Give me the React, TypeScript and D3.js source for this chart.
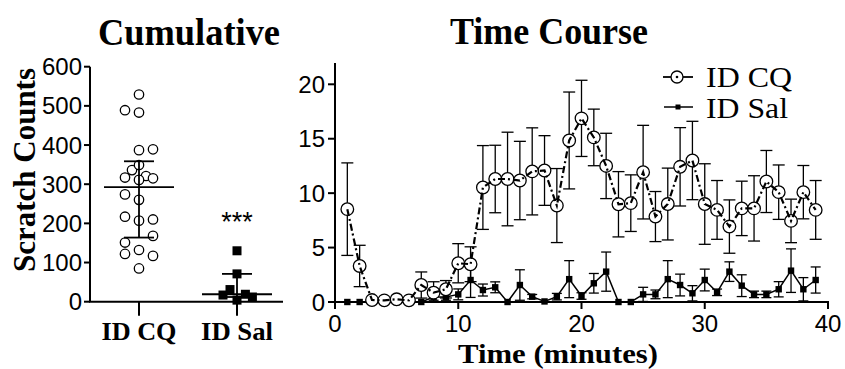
import React from "react";
import * as d3 from "d3";

const cqCumulative = [529, 489, 483, 387, 389, 336, 349, 317, 321, 311, 315, 274, 260, 217, 207, 210, 151, 168, 122, 132, 117, 85];
const cqJitter = [0, -1, 0, 0, 1, -0.5, 0, -1, 0.5, 0, 1, -1, 0, -1, 0, 1, -1, 1, -1, 0, 1, 0];
const salCumulative = [130, 71, 31, 17, 19, 12, 4];
const salJitter = [0, 0, -0.5, -1, 0.6, 1.1, 0];
const categories = ["ID CQ", "ID Sal"];
const leftTicks = [0, 100, 200, 300, 400, 500, 600];

const minutes = d3.range(1, 40);
const cqMean = [8.53, 3.31, 0.18, 0.15, 0.25, 0.15, 1.56, 0.86, 1.17, 3.56, 3.47, 10.52, 11.3, 11.3, 11.16, 12.0, 12.08, 8.86, 14.84, 16.87, 15.12, 12.5, 8.98, 9.08, 11.93, 7.85, 9.0, 12.42, 13.0, 9.0, 8.46, 6.93, 8.6, 8.6, 11.07, 10.09, 7.45, 10.09, 8.46];
const cqSem = [4.25, 1.9, 0.1, 0.1, 0.15, 0.1, 1.2, 1.0, 0.8, 1.8, 1.6, 3.85, 3.1, 4.3, 3.6, 4.0, 3.2, 3.4, 4.45, 3.5, 2.6, 3.0, 3.0, 2.6, 4.3, 2.3, 3.3, 3.6, 3.6, 3.7, 2.7, 2.45, 2.5, 3.0, 2.85, 2.5, 2.0, 2.45, 2.7];
const salMean = [0, 0, 0, 0, 0, 0, 0, 0.46, 0.46, 0.7, 2.02, 1.1, 1.35, 0, 1.56, 0.49, 0.05, 0.49, 2.1, 0.55, 1.72, 2.79, 0, 0, 0.7, 0.7, 2.1, 1.56, 0.8, 2.02, 0.89, 2.79, 1.5, 0.7, 0.7, 1.17, 2.88, 1.17, 2.02];
const salSem = [0, 0, 0, 0, 0, 0, 0, 0.3, 0.3, 0.5, 1.6, 0.55, 0.5, 0, 1.4, 0.2, 0, 0.3, 1.7, 0.3, 0.9, 1.8, 0, 0, 0.65, 0.4, 1.7, 1.0, 0.7, 1.0, 0.3, 0.9, 1.0, 0.3, 0.3, 0.7, 2.0, 1.07, 1.2];
const rightYTicks = [0, 5, 10, 15, 20];
const rightXTicks = [0, 10, 20, 30, 40];

// GraphPad-style quantile: position (n+1)p
function gpQuantile(vals: number[], p: number) {
  const s = [...vals].sort((a, b) => a - b);
  const pos = (s.length + 1) * p;
  const lo = Math.floor(pos);
  const frac = pos - lo;
  if (lo < 1) return s[0];
  if (lo >= s.length) return s[s.length - 1];
  return s[lo - 1] + frac * (s[lo] - s[lo - 1]);
}

const SERIF = "'Liberation Serif', 'Times New Roman', serif";
const SANS = "'Liberation Sans', Arial, sans-serif";

export default function App() {
  const yL = d3.scaleLinear().domain([0, 600]).range([301.7, 66.7]);
  const xL = d3.scalePoint<string>().domain(categories).range([139, 237]);
  const xR = d3.scaleLinear().domain([0, 40]).range([335, 828]);
  const yR = d3.scaleLinear().domain([0, 20]).range([302, 84.3]);

  const groups = [
    { name: categories[0], vals: cqCumulative, jit: cqJitter, filled: false },
    { name: categories[1], vals: salCumulative, jit: salJitter, filled: true },
  ];

  const cqLine = d3.line<number>().x((_, i) => xR(minutes[i])).y((d) => yR(d));
  const salLine = d3.line<number>().x((_, i) => xR(minutes[i])).y((d) => yR(d));

  return (
    <svg width={845} height={369} style={{ position: "absolute", left: 0, top: 0, background: "#fff" }}>
      <rect width={845} height={369} fill="#fff" />
      <text x={98} y={45} fontFamily={SERIF} fontWeight="bold" fontSize={38} textLength={182} lengthAdjust="spacingAndGlyphs">Cumulative</text>
      <text x={450} y={44} fontFamily={SERIF} fontWeight="bold" fontSize={38} textLength={198} lengthAdjust="spacingAndGlyphs">Time Course</text>

      {/* LEFT PANEL */}
      <text transform={`translate(35,272) rotate(-90)`} fontFamily={SERIF} fontWeight="bold" fontSize={31} textLength={204} lengthAdjust="spacingAndGlyphs">Scratch Counts</text>
      <line x1={90} x2={90} y1={yL(600)} y2={yL(0)} stroke="#000" strokeWidth={2} />
      <line x1={89} x2={283} y1={yL(0)} y2={yL(0)} stroke="#000" strokeWidth={2} />
      {leftTicks.map((t) => (
        <g key={t}>
          <line x1={84} x2={90} y1={yL(t)} y2={yL(t)} stroke="#000" strokeWidth={2} />
          <text x={82} y={yL(t) + 8.5} textAnchor="end" fontFamily={SANS} fontSize={24}>{t}</text>
        </g>
      ))}
      {categories.map((c) => (
        <g key={c}>
          <line x1={xL(c)} x2={xL(c)} y1={yL(0)} y2={yL(0) + 14} stroke="#000" strokeWidth={2} />
          <text x={xL(c)} y={340} textAnchor="middle" fontFamily={SERIF} fontWeight="bold" fontSize={26} textLength={c === "ID CQ" ? 75 : 72} lengthAdjust="spacingAndGlyphs">{c}</text>
        </g>
      ))}
      {groups.map((g) => {
        const cx = xL(g.name)!;
        const med = gpQuantile(g.vals, 0.5);
        const q1 = gpQuantile(g.vals, 0.25);
        const q3 = gpQuantile(g.vals, 0.75);
        return (
          <g key={g.name}>
            {g.vals.map((v, i) =>
              g.filled ? (
                <rect key={i} x={cx + g.jit[i] * 14 - 4.5} y={yL(v) - 4.5} width={9} height={9} fill="#000" />
              ) : (
                <circle key={i} cx={cx + g.jit[i] * 14} cy={yL(v)} r={4.7} fill="#fff" stroke="#000" strokeWidth={1.3} />
              )
            )}
            <line x1={cx} x2={cx} y1={yL(q1)} y2={yL(q3)} stroke="#000" strokeWidth={1.8} />
            <line x1={cx - 15} x2={cx + 15} y1={yL(q3)} y2={yL(q3)} stroke="#000" strokeWidth={1.8} />
            <line x1={cx - 15} x2={cx + 15} y1={yL(q1)} y2={yL(q1)} stroke="#000" strokeWidth={1.8} />
            <line x1={cx - 35} x2={cx + 35} y1={yL(med)} y2={yL(med)} stroke="#000" strokeWidth={1.8} />
          </g>
        );
      })}
      <text x={xL(categories[1])} y={231} textAnchor="middle" fontFamily={SANS} fontSize={27}>***</text>

      {/* RIGHT PANEL */}
      <line x1={335} x2={335} y1={63} y2={yR(0)} stroke="#000" strokeWidth={2} />
      <line x1={334} x2={829} y1={yR(0)} y2={yR(0)} stroke="#000" strokeWidth={2} />
      {rightYTicks.map((t) => (
        <g key={t}>
          <line x1={328} x2={335} y1={yR(t)} y2={yR(t)} stroke="#000" strokeWidth={2} />
          <text x={325} y={yR(t) + 8.5} textAnchor="end" fontFamily={SANS} fontSize={24}>{t}</text>
        </g>
      ))}
      {rightXTicks.map((t) => (
        <g key={t}>
          <line x1={xR(t)} x2={xR(t)} y1={yR(0)} y2={yR(0) + 7} stroke="#000" strokeWidth={2} />
          <text x={xR(t)} y={332} textAnchor="middle" fontFamily={SANS} fontSize={24}>{t}</text>
        </g>
      ))}
      <text x={458} y={363} fontFamily={SERIF} fontWeight="bold" fontSize={28} textLength={200} lengthAdjust="spacingAndGlyphs">Time (minutes)</text>

      {/* Sal error bars, line, points */}
      {minutes.map((m, i) =>
        salSem[i] > 0 ? (
          <g key={"se" + m}>
            <line x1={xR(m)} x2={xR(m)} y1={yR(salMean[i] - salSem[i])} y2={yR(salMean[i] + salSem[i])} stroke="#000" strokeWidth={1.3} />
            <line x1={xR(m) - 5} x2={xR(m) + 5} y1={yR(salMean[i] + salSem[i])} y2={yR(salMean[i] + salSem[i])} stroke="#000" strokeWidth={1.3} />
            <line x1={xR(m) - 5} x2={xR(m) + 5} y1={yR(Math.max(0, salMean[i] - salSem[i]))} y2={yR(Math.max(0, salMean[i] - salSem[i]))} stroke="#000" strokeWidth={1.3} />
          </g>
        ) : null
      )}
      <path d={salLine(salMean) || ""} fill="none" stroke="#000" strokeWidth={1.5} />
      {minutes.map((m, i) => (
        <rect key={"sp" + m} x={xR(m) - 3.2} y={yR(salMean[i]) - 3.2} width={6.4} height={6.4} fill="#000" />
      ))}

      {/* CQ error bars */}
      {minutes.map((m, i) => (
        <g key={"ce" + m}>
          <line x1={xR(m)} x2={xR(m)} y1={yR(Math.max(0, cqMean[i] - cqSem[i]))} y2={yR(cqMean[i] + cqSem[i])} stroke="#000" strokeWidth={1.3} />
          <line x1={xR(m) - 6} x2={xR(m) + 6} y1={yR(cqMean[i] + cqSem[i])} y2={yR(cqMean[i] + cqSem[i])} stroke="#000" strokeWidth={1.3} />
          <line x1={xR(m) - 6} x2={xR(m) + 6} y1={yR(Math.max(0, cqMean[i] - cqSem[i]))} y2={yR(Math.max(0, cqMean[i] - cqSem[i]))} stroke="#000" strokeWidth={1.3} />
        </g>
      ))}
      {minutes.map((m, i) => (
        <circle key={"cp" + m} cx={xR(m)} cy={yR(cqMean[i])} r={6.3} fill="#fff" stroke="#000" strokeWidth={1.3} />
      ))}
      <path d={cqLine(cqMean) || ""} fill="none" stroke="#000" strokeWidth={2.2} strokeDasharray="7 3 2 3" />

      {/* legend */}
      <line x1={663} x2={693} y1={77} y2={77} stroke="#000" strokeWidth={1.8} />
      <circle cx={677} cy={77} r={6} fill="#fff" stroke="#000" strokeWidth={1.3} />
      <circle cx={677} cy={77} r={1.3} fill="#000" />
      <text x={706} y={87} fontFamily={SERIF} fontSize={29} textLength={86} lengthAdjust="spacingAndGlyphs">ID CQ</text>
      <line x1={664} x2={693} y1={107} y2={107} stroke="#000" strokeWidth={1.5} />
      <rect x={675.5} y={104.5} width={5} height={5} fill="#000" />
      <text x={706} y={118} fontFamily={SERIF} fontSize={29} textLength={82} lengthAdjust="spacingAndGlyphs">ID Sal</text>
    </svg>
  );
}
